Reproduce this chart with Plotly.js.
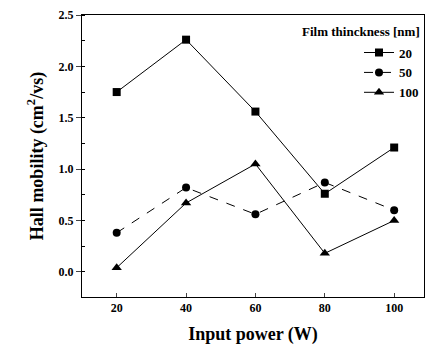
<!DOCTYPE html>
<html><head><meta charset="utf-8">
<script src="https://cdn.plot.ly/plotly-3.0.1.min.js"></script>
<style>html,body{margin:0;padding:0;background:#fff}</style>
</head><body><div id="chart" style="width:427px;height:355px"></div>
<script>
var power = [20, 40, 60, 80, 100];
var mob20 = [1.75, 2.26, 1.56, 0.76, 1.21];
var mob50 = [0.38, 0.82, 0.56, 0.87, 0.60];
var mob100 = [0.04, 0.67, 1.05, 0.18, 0.50];
var names = ['20', '50', '100'];

var F = 'Liberation Serif, Times New Roman, serif';
var traces = [
  {x: power, y: mob20, name: names[0], mode: 'lines+markers',
   line: {color: '#000', width: 1, dash: 'solid'}, marker: {symbol: 'square', size: 8, color: '#000'}},
  {x: power, y: mob50, name: names[1], mode: 'lines+markers',
   line: {color: '#000', width: 1, dash: 'dash'}, marker: {symbol: 'circle', size: 8, color: '#000'}},
  {x: power, y: mob100, name: names[2], mode: 'lines+markers',
   line: {color: '#000', width: 1, dash: 'solid'}, marker: {symbol: 'triangle-up', size: 9, color: '#000'}}
];
var layout = {
  width: 427, height: 355,
  margin: {l: 82, r: 3, t: 15, b: 58},
  paper_bgcolor: '#fff', plot_bgcolor: '#fff',
  font: {family: F, color: '#000'},
  showlegend: true,
  legend: {x: 1, xanchor: 'right', y: 0.92, yanchor: 'top', bgcolor: 'rgba(0,0,0,0)',
           font: {family: F, size: 13, weight: 'bold'}, tracegroupgap: 0, itemwidth: 30},
  annotations: [{text: '<b>Film thinckness [nm]</b>', xref: 'paper', yref: 'paper', x: 0.995, y: 0.975,
                 xanchor: 'right', yanchor: 'top', showarrow: false, font: {family: F, size: 13}}],
  xaxis: {range: [10, 108.6], tickvals: power, ticktext: power.map(String), ticks: 'inside', ticklen: 4,
          showline: true, linecolor: '#000', linewidth: 1, mirror: true, showgrid: false, zeroline: false,
          tickfont: {family: F, size: 12, weight: 'bold'},
          title: {text: '<b>Input power (W)</b>', font: {family: F, size: 18}, standoff: 12}},
  yaxis: {range: [-0.245, 2.5], tickvals: [0, 0.5, 1, 1.5, 2, 2.5], ticktext: ['0.0', '0.5', '1.0', '1.5', '2.0', '2.5'],
          ticks: 'outside', ticklen: 5, showline: true, linecolor: '#000', linewidth: 1, mirror: true,
          showgrid: false, zeroline: false,
          minor: {dtick: 0.25, ticks: 'inside', ticklen: 3, tickcolor: '#000', showgrid: false},
          tickfont: {family: F, size: 12, weight: 'bold'},
          title: {text: '<b>Hall mobility (cm<sup>2</sup>/vs)</b>', font: {family: F, size: 18}, standoff: 10}}
};
Plotly.newPlot('chart', traces, layout, {displayModeBar: false, staticPlot: true});
</script></body></html>
